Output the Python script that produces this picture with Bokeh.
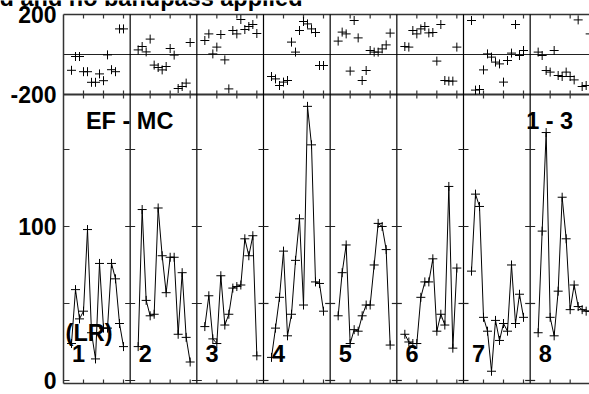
import math
from bokeh.plotting import figure
from bokeh.models import Range1d
from bokeh.core.properties import value
from bokeh.embed import file_html
from bokeh.resources import INLINE

# ---------------- data ----------------
CHANNELS = list(range(2, 16))            # channel numbers plotted in every IF panel
IF_LABELS = ["1", "2", "3", "4", "5", "6", "7", "8"]

AMP_1 = [24, 59, 40, 45, 98, 31, 14, 76, 34, 34, 76, 66, 37, 22]
AMP_2 = [22, 111, 52, 42, 43, 112, 81, 57, 80, 80, 30, 70, 28, 12]
AMP_3 = [35, 55, 27, 24, 68, 36, 43, 60, 61, 62, 92, 81, 94, 16]
AMP_4 = [15, 34, 54, 84, 29, 43, 78, 105, 49, 178, 153, 64, 63, 45]
AMP_5 = [42, 70, 88, 24, 33, 32, 42, 49, 49, 75, 102, 100, 85, 23]
AMP_6 = [30, 25, 24, 24, 54, 64, 64, 79, 32, 43, 36, 126, 21, 73]
AMP_7 = [71, 121, 113, 41, 32, 6, 39, 26, 37, 32, 75, 37, 56, 41]
AMP_8 = [31, 97, 161, 41, 29, 58, 119, 92, 46, 62, 48, 46, 45, 45]

PHASE_1 = [-79, -10, -10, -86, -86, -139, -139, -97, -131, -2, -76, -86, 128, 128]
PHASE_2 = [23, 40, 13, 77, -53, -65, -77, -60, 30, -3, -170, -160, -143, 60]
PHASE_3 = [70, 103, 3, 37, 100, -27, -172, 120, 103, 175, 125, 140, 150, 105]
PHASE_4 = [-110, -122, -155, -138, -130, 62, 12, 120, 165, 153, 128, 110, -55, -55]
PHASE_5 = [67, 112, 103, -83, 170, 83, -130, -80, 20, 12, 12, 28, 48, 107]
PHASE_6 = [40, 37, 120, 103, 128, 140, 108, 110, -33, 150, -130, -133, -133, 37]
PHASE_7 = [170, -178, -175, -77, 3, -13, -38, -47, -138, -30, 7, 150, -5, 20]
PHASE_8 = [12, -5, -80, -88, 20, -105, -110, -88, -110, -127, 173, -160, -155, 103]

AMPS = [AMP_1, AMP_2, AMP_3, AMP_4, AMP_5, AMP_6, AMP_7, AMP_8]
PHASES = [PHASE_1, PHASE_2, PHASE_3, PHASE_4, PHASE_5, PHASE_6, PHASE_7, PHASE_8]

PHASE_LIM = 200
PHASE_TICKS = [200, -200]
PHASE_TICK_LABELS = ["200", "-200"]
AMP_TICKS = [0, 50, 100, 150]
AMP_LABELLED_TICKS = [0, 100]
AMP_TICK_LABELS = ["0", "100"]
CHANNEL_TICKS = [5, 10, 15]

TITLE = "d and no bandpass applied"
BASELINE = "EF - MC"
IF_RANGE = "1 - 3"
POL = "(LR)"

# ---------------- layout (pixels of the 589 x 394 picture) ----------------
FONT = "Liberation Sans"
W_FIG, H_FIG = 589, 394
BOX_LEFT_PX, BOX_TOP_PX, MID_PX, BOX_BOTTOM_PX = 63, 14, 94, 383
PX_PER_CHAN = 4
PANEL_SPAN = 50 / 3                 # channels spanned by one IF panel
NPAN = len(AMPS)

AMP_AT_MID, AMP_AT_BOTTOM = 185.7, -1.96
PX_PER_AMP = (BOX_BOTTOM_PX - MID_PX) / (AMP_AT_MID - AMP_AT_BOTTOM)
PHASE_PER_PX = 2 * PHASE_LIM / (MID_PX - BOX_TOP_PX)


def amp_at_px(py):
    return AMP_AT_MID + (MID_PX - py) / PX_PER_AMP


X_START = -BOX_LEFT_PX / PX_PER_CHAN
X_END = (W_FIG - BOX_LEFT_PX) / PX_PER_CHAN
AMP_BOX_TOP = amp_at_px(BOX_TOP_PX)

p = figure(width=W_FIG, height=H_FIG, output_backend="svg", toolbar_location=None,
           x_range=Range1d(X_START, X_END),
           y_range=Range1d(amp_at_px(H_FIG), amp_at_px(0)),
           x_axis_location=None, y_axis_location=None,
           min_border_left=0, min_border_right=0, min_border_top=0, min_border_bottom=0)
p.extra_y_ranges = {"phase": Range1d(-PHASE_LIM - (H_FIG - MID_PX) * PHASE_PER_PX,
                                     PHASE_LIM + BOX_TOP_PX * PHASE_PER_PX)}
p.grid.visible = False
p.outline_line_color = None
p.background_fill_color = "white"
p.border_fill_color = "white"

EDGE = "#333333"
# plot box: top, middle (phase -200 / amplitude top), bottom and left edges
p.segment(x0=[0], x1=[X_END], y0=[PHASE_LIM], y1=[PHASE_LIM], y_range_name="phase",
          line_color=EDGE, line_width=1.5)
p.segment(x0=[0], x1=[X_END], y0=[-PHASE_LIM], y1=[-PHASE_LIM], y_range_name="phase",
          line_color=EDGE, line_width=2)
p.segment(x0=[0], x1=[X_END], y0=[0], y1=[0], y_range_name="phase",
          line_color="#222222", line_width=1.2)
p.segment(x0=[0], x1=[X_END], y0=[AMP_AT_BOTTOM], y1=[AMP_AT_BOTTOM],
          line_color=EDGE, line_width=1.5)
p.segment(x0=[0], x1=[0], y0=[AMP_AT_BOTTOM], y1=[AMP_BOX_TOP],
          line_color=EDGE, line_width=1.5)

# panel dividers
div = [k * PANEL_SPAN for k in range(1, NPAN)]
p.segment(x0=div, x1=div, y0=[AMP_AT_BOTTOM] * len(div), y1=[AMP_BOX_TOP] * len(div),
          line_color="black", line_width=1.2)

# channel ticks: inward on top and bottom edges, both ways on the middle line
xt = [k * PANEL_SPAN + t for k in range(NPAN) for t in CHANNEL_TICKS]
n = len(xt)
p.segment(x0=xt, x1=xt, y0=[PHASE_LIM] * n, y1=[PHASE_LIM - 4 * PHASE_PER_PX] * n,
          y_range_name="phase", line_color=EDGE, line_width=1.2)
p.segment(x0=xt, x1=xt, y0=[AMP_AT_BOTTOM] * n, y1=[AMP_AT_BOTTOM + 4 / PX_PER_AMP] * n,
          line_color=EDGE, line_width=1.2)
p.scatter(xt, [-PHASE_LIM] * n, marker="dash", angle=math.pi / 2, size=8,
          line_color=EDGE, line_width=1.2, y_range_name="phase")

# amplitude ticks: inward on the left edge, both ways on the dividers
p.segment(x0=[0] * len(AMP_TICKS), x1=[6 / PX_PER_CHAN] * len(AMP_TICKS),
          y0=AMP_TICKS, y1=AMP_TICKS, line_color=EDGE, line_width=1.2)
div_x = [d for d in div for _ in AMP_TICKS]
div_y = [t for _ in div for t in AMP_TICKS]
p.scatter(div_x, div_y, marker="dash", size=10, line_color="#222222", line_width=1.2)

# tick labels
lab = dict(text_font=value(FONT), text_font_style="bold", text_font_size="23px",
           text_color="black", text_align="right", text_baseline="middle")
lab_x = -7 / PX_PER_CHAN
p.text(x=[lab_x] * len(PHASE_TICKS), y=PHASE_TICKS, text=PHASE_TICK_LABELS,
       y_range_name="phase", **lab)
p.text(x=[lab_x] * len(AMP_LABELLED_TICKS), y=AMP_LABELLED_TICKS, text=AMP_TICK_LABELS, **lab)

# phases (top strip) and amplitudes (bottom strip)
for k in range(NPAN):
    xs = [k * PANEL_SPAN + c for c in CHANNELS]
    p.scatter(xs, PHASES[k], marker="cross", size=9, line_color="black",
              line_width=1, y_range_name="phase")
    p.line(xs, AMPS[k], line_color="black", line_width=1)
    p.scatter(xs, AMPS[k], marker="cross", size=9, line_color="black", line_width=1)

# annotations (anchored at the middle of their capitals)
txt = dict(text_font=value(FONT), text_font_style="bold", text_font_size="23.5px",
           text_color="black", text_baseline="middle")
p.text(x=[k * PANEL_SPAN + 2.15 for k in range(NPAN)], y=[amp_at_px(353)] * NPAN,
       text=IF_LABELS, **txt)
p.text(x=[7 * PANEL_SPAN - 1], y=[amp_at_px(120.5)], text=[IF_RANGE], **txt)
p.text(x=[0.52], y=[amp_at_px(332)], text=[POL], **txt)
p.text(x=[5.6], y=[amp_at_px(120)], text=[BASELINE], **txt)

# title: only its lower part falls inside the picture, as in the original
p.text(x=[(302 - BOX_LEFT_PX) / PX_PER_CHAN], y=[amp_at_px(-2.6)], text=[TITLE],
       text_align="right", **txt)

open("out.html", "w").write(file_html(p, INLINE))
